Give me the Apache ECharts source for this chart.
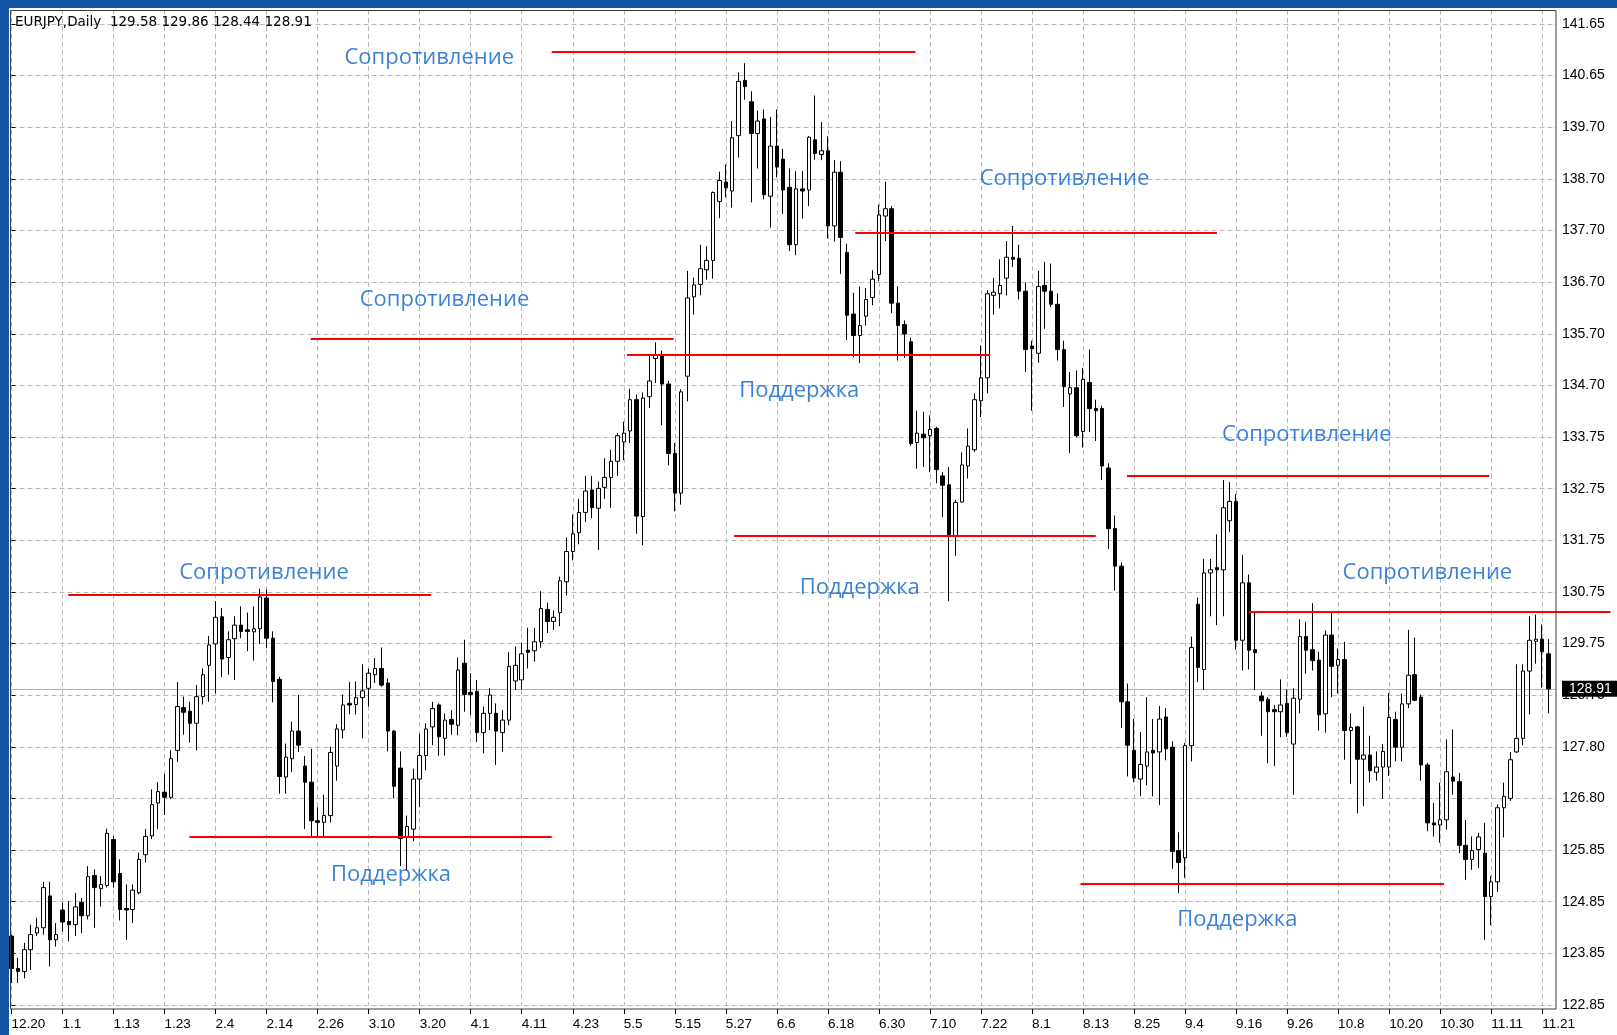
<!DOCTYPE html>
<html>
<head>
<meta charset="utf-8">
<title>EURJPY, Daily</title>
<script src="https://cdn.jsdelivr.net/npm/echarts@6/dist/echarts.min.js"></script>
<style>
  html, body { margin: 0; padding: 0; background: #fff; }
  #chart { width: 1617px; height: 1035px; }
</style>
</head>
<body>
<div id="chart"></div>
<script>
// daily bars, every weekday from 12.20 up to 11.24
const firstDay = '2002-12-20';
const barCount = 242;

const opens = [
  124.17, 123.55, 123.49, 123.91, 124.23, 124.33, 124.94, 124.10, 124.67, 124.45,
  124.39, 124.82, 124.56, 125.33, 125.08, 125.14, 126.02, 125.37, 124.70, 124.68,
  125.00, 125.73, 126.09, 126.72, 126.93, 126.83, 127.73, 128.55, 128.48, 128.25,
  128.76, 129.36, 129.77, 130.29, 129.51, 129.87, 130.13, 130.04, 130.00, 130.06,
  130.65, 129.88, 129.09, 127.22, 127.57, 128.10, 127.43, 127.12, 126.38, 126.35,
  126.48, 127.43, 128.12, 128.63, 128.61, 128.74, 128.92, 129.18, 129.30, 129.02,
  128.10, 127.39, 126.06, 126.22, 127.18, 127.63, 128.18, 128.60, 127.96, 128.32,
  128.21, 129.40, 128.84, 128.86, 128.07, 128.44, 128.44, 128.07, 128.31, 129.06,
  129.08, 129.65, 129.64, 129.81, 130.43, 130.20, 130.37, 130.96, 131.54, 131.90,
  132.29, 132.72, 132.37, 132.77, 132.96, 133.27, 133.64, 133.85, 134.45, 132.21,
  134.51, 135.24, 135.29, 134.75, 133.42, 132.66, 134.90, 136.42, 136.66, 136.94,
  137.12, 138.25, 138.62, 138.45, 139.51, 140.57, 140.16, 139.55, 139.83, 138.35,
  139.31, 139.06, 138.52, 137.42, 138.49, 138.47, 139.43, 139.15, 139.22, 137.78,
  138.81, 137.27, 136.09, 135.68, 136.05, 136.41, 136.85, 137.97, 138.11, 136.30,
  135.89, 135.56, 133.63, 133.79, 133.76, 133.90, 132.99, 132.82, 131.85, 132.49,
  133.18, 133.49, 134.43, 134.87, 136.45, 136.48, 136.78, 137.18, 137.16, 136.53,
  135.48, 135.34, 136.64, 136.53, 136.28, 135.41, 134.56, 134.68, 133.84, 134.78,
  134.28, 134.28, 133.14, 131.98, 131.26, 128.66, 127.73, 127.18, 127.43, 127.73,
  127.70, 128.37, 127.79, 125.81, 125.67, 127.82, 130.53, 129.28, 131.13, 131.23,
  131.19, 132.13, 132.50, 129.84, 130.94, 129.66, 128.77, 128.71, 128.51, 128.47,
  128.63, 127.85, 128.71, 129.91, 129.66, 129.46, 128.43, 129.94, 129.36, 129.47,
  128.11, 128.18, 127.56, 127.64, 127.31, 127.41, 127.41, 128.32, 127.79, 128.62,
  129.18, 128.75, 127.45, 126.34, 126.30, 126.40, 127.22, 127.13, 125.91, 125.64,
  125.83, 125.76, 124.93, 125.21, 126.63, 126.81, 127.70, 127.96, 129.25, 129.82,
  129.86, 129.58
];
const closes = [
  123.55, 123.49, 123.91, 124.20, 124.33, 125.10, 124.10, 124.20, 124.44, 124.39,
  124.73, 124.56, 125.31, 125.10, 125.16, 126.14, 125.21, 124.68, 124.67, 125.05,
  125.64, 126.08, 126.69, 126.94, 126.83, 127.57, 128.57, 128.46, 128.25, 128.76,
  129.18, 129.75, 130.28, 129.48, 129.85, 130.13, 130.01, 130.01, 130.06, 130.67,
  129.88, 129.05, 127.23, 127.60, 128.10, 127.83, 127.12, 126.38, 126.35, 126.48,
  127.69, 128.14, 128.60, 128.60, 128.74, 128.87, 129.21, 129.30, 128.98, 128.10,
  127.04, 126.04, 126.27, 127.18, 127.63, 128.14, 128.53, 127.99, 128.31, 128.23,
  129.27, 128.80, 128.80, 128.07, 128.44, 128.79, 128.10, 128.31, 129.34, 129.36,
  129.58, 129.61, 129.81, 130.45, 130.20, 130.28, 130.98, 131.54, 131.88, 132.29,
  132.70, 132.38, 132.75, 132.96, 133.27, 133.76, 133.81, 134.45, 132.22, 134.48,
  134.81, 135.31, 134.75, 133.42, 132.66, 134.60, 136.40, 136.65, 136.96, 137.12,
  138.42, 138.65, 138.51, 139.47, 140.55, 140.45, 139.55, 139.79, 138.38, 139.31,
  138.91, 138.47, 137.42, 138.49, 138.45, 139.48, 139.17, 139.22, 137.78, 138.81,
  137.56, 136.07, 135.68, 135.87, 136.37, 136.76, 137.99, 138.11, 136.30, 135.87,
  135.71, 133.61, 133.81, 133.72, 133.88, 133.11, 132.81, 131.83, 132.48, 133.20,
  133.56, 134.45, 134.87, 136.48, 136.51, 136.64, 137.18, 137.14, 136.53, 135.41,
  135.43, 136.62, 136.53, 136.28, 135.41, 134.70, 134.68, 133.76, 134.84, 134.28,
  134.24, 133.18, 131.98, 131.26, 128.66, 127.83, 127.20, 127.46, 127.70, 127.68,
  128.33, 127.76, 125.79, 125.58, 127.82, 129.70, 129.32, 131.13, 131.19, 131.19,
  132.38, 132.50, 129.84, 130.94, 129.65, 129.60, 128.68, 128.47, 128.47, 128.60,
  128.07, 128.73, 129.91, 129.65, 129.45, 128.41, 129.94, 129.34, 129.47, 128.11,
  128.17, 127.56, 127.64, 127.34, 127.41, 127.71, 128.36, 127.79, 128.62, 129.17,
  128.69, 127.45, 126.34, 126.30, 126.40, 127.32, 127.14, 125.91, 125.64, 125.81,
  126.07, 124.93, 125.21, 126.63, 126.85, 127.55, 127.96, 129.25, 129.84, 129.86,
  129.62, 128.91
];
const lows = [
  123.27, 123.27, 123.36, 123.52, 124.17, 124.20, 123.59, 123.97, 124.26, 124.07,
  124.17, 124.23, 124.49, 124.33, 124.74, 125.10, 125.10, 124.47, 124.10, 124.42,
  124.97, 125.58, 126.03, 126.22, 126.49, 126.80, 127.51, 128.03, 127.88, 127.73,
  128.61, 128.66, 128.82, 129.14, 129.18, 129.08, 129.88, 129.63, 129.45, 129.77,
  129.69, 128.65, 126.90, 126.90, 127.31, 127.70, 126.22, 126.06, 126.06, 126.09,
  126.35, 127.15, 127.96, 128.42, 128.42, 127.96, 128.57, 129.02, 128.95, 127.71,
  126.81, 125.51, 125.42, 125.99, 126.64, 127.35, 127.83, 127.63, 127.63, 128.03,
  128.02, 128.47, 128.41, 127.89, 127.67, 128.12, 127.45, 127.70, 128.21, 128.89,
  128.90, 129.30, 129.43, 129.70, 129.98, 130.04, 130.11, 130.70, 131.37, 131.68,
  132.11, 132.18, 131.57, 132.55, 132.38, 132.99, 133.29, 133.62, 131.88, 131.66,
  134.29, 134.77, 133.96, 133.19, 132.31, 132.44, 134.42, 136.08, 136.45, 136.75,
  136.77, 137.93, 138.33, 138.13, 139.09, 140.20, 138.23, 138.88, 138.29, 137.75,
  138.71, 138.01, 137.30, 137.22, 137.92, 138.16, 139.05, 139.04, 137.54, 137.48,
  136.86, 135.59, 135.27, 135.15, 135.87, 136.26, 136.72, 137.49, 136.11, 135.20,
  135.25, 133.57, 133.13, 133.16, 133.06, 132.85, 132.20, 130.59, 131.46, 132.48,
  132.94, 133.45, 134.12, 134.57, 136.08, 136.20, 136.45, 136.99, 136.37, 134.98,
  134.24, 135.16, 135.81, 136.23, 135.20, 134.31, 133.43, 133.73, 133.53, 133.83,
  133.66, 132.91, 131.59, 130.79, 128.16, 127.23, 127.12, 126.85, 127.06, 126.85,
  126.68, 127.54, 125.46, 125.00, 125.29, 127.52, 129.04, 128.89, 130.30, 130.13,
  130.30, 131.91, 129.66, 129.26, 129.28, 128.89, 128.01, 127.48, 127.43, 127.98,
  127.99, 126.88, 128.44, 129.20, 129.26, 128.11, 128.07, 128.75, 128.82, 127.55,
  127.09, 126.52, 126.66, 127.11, 127.15, 126.80, 127.24, 127.52, 127.52, 128.54,
  128.67, 127.15, 126.18, 126.08, 125.96, 126.21, 126.88, 125.76, 125.25, 125.44,
  125.47, 124.10, 124.38, 125.02, 126.06, 126.76, 127.68, 127.83, 128.42, 129.39,
  128.93, 128.44
];
const highs = [
  124.20, 123.75, 124.04, 124.39, 124.52, 125.21, 125.21, 124.42, 124.81, 124.84,
  125.00, 124.90, 125.51, 125.45, 125.32, 126.23, 126.09, 125.64, 125.16, 125.16,
  125.77, 126.22, 126.98, 127.12, 127.28, 127.73, 129.04, 128.76, 128.66, 128.98,
  129.30, 129.92, 130.59, 130.46, 130.01, 130.30, 130.49, 130.37, 130.49, 130.83,
  130.81, 130.01, 129.14, 127.86, 128.28, 128.79, 127.62, 127.76, 126.64, 126.88,
  127.80, 128.23, 128.80, 129.04, 129.05, 129.38, 129.30, 129.50, 129.70, 129.11,
  128.12, 127.71, 126.48, 127.38, 128.05, 128.25, 128.66, 128.63, 128.44, 128.50,
  129.51, 129.85, 129.21, 129.08, 128.57, 128.92, 128.63, 128.50, 129.61, 129.72,
  129.79, 130.08, 130.08, 130.78, 130.56, 130.41, 131.06, 131.81, 132.25, 132.55,
  132.99, 132.99, 132.88, 133.33, 133.49, 133.81, 134.03, 134.66, 134.55, 134.59,
  135.33, 135.55, 135.39, 134.81, 133.62, 134.65, 136.92, 136.79, 137.42, 137.39,
  138.44, 138.82, 138.96, 139.79, 140.72, 140.90, 140.36, 139.99, 140.01, 139.87,
  140.01, 139.26, 138.88, 138.83, 138.83, 139.50, 140.28, 139.77, 139.50, 139.04,
  139.02, 137.44, 136.50, 136.62, 136.59, 136.93, 138.19, 138.63, 138.16, 136.62,
  135.97, 135.64, 134.24, 134.22, 134.15, 133.93, 133.06, 133.16, 132.53, 133.44,
  133.90, 134.57, 135.49, 136.55, 136.78, 137.14, 137.49, 137.78, 137.42, 136.70,
  135.58, 136.92, 137.09, 137.06, 136.49, 135.58, 134.98, 135.01, 135.06, 135.41,
  134.45, 134.33, 133.23, 132.23, 131.33, 129.01, 128.33, 128.08, 128.75, 128.33,
  128.58, 128.54, 127.90, 126.16, 127.87, 129.91, 130.66, 131.40, 131.40, 131.87,
  132.91, 132.87, 132.64, 131.47, 131.10, 130.36, 128.85, 128.75, 128.60, 129.09,
  128.90, 128.92, 130.24, 130.19, 130.55, 129.62, 130.03, 130.40, 129.68, 129.81,
  128.44, 128.20, 128.57, 128.01, 127.71, 127.85, 128.83, 128.47, 128.82, 130.04,
  129.89, 128.80, 127.49, 126.72, 127.11, 127.94, 128.13, 127.30, 126.40, 126.08,
  126.15, 126.34, 125.32, 126.69, 127.11, 127.70, 129.38, 129.38, 130.30, 130.33,
  130.14, 129.86
];

// price scale labels as printed on the right
const yTickLabels = ['122.85', '123.85', '124.85', '125.85', '126.80', '127.80', '128.75',
  '129.75', '130.75', '131.75', '132.75', '133.75', '134.70', '135.70', '136.70',
  '137.70', '138.70', '139.70', '140.65', '141.65'];

// support / resistance: [from bar, to bar, price]
const levelLines = [
  [84.7, 141.7, 141.12],
  [46.9, 103.8, 135.61],
  [96.5, 153.4, 135.32],
  [132.3, 189.0, 137.64],
  [113.3, 170.0, 131.85],
  [174.9, 231.7, 133.00],
  [194.0, 250.7, 130.39],
  [167.6, 224.6, 125.17],
  [8.9, 65.8, 130.72],
  [27.9, 84.7, 126.07]
];
// captions: [text, bar, price]
const levelTexts = [
  ['Сопротивление', 65.5, 141.00],
  ['Сопротивление', 67.9, 136.36],
  ['Сопротивление', 39.6, 131.14],
  ['Поддержка', 59.5, 125.35],
  ['Поддержка', 123.5, 134.62],
  ['Поддержка', 133.0, 130.85],
  ['Сопротивление', 165.1, 138.69],
  ['Сопротивление', 203.1, 133.77],
  ['Сопротивление', 222.0, 131.14],
  ['Поддержка', 192.2, 124.48]
];

function tradingDays(start, n) {
  const out = [];
  const d = new Date(start + 'T00:00:00Z');
  while (out.length < n) {
    const wd = d.getUTCDay();
    if (wd !== 0 && wd !== 6) out.push((d.getUTCMonth() + 1) + '.' + d.getUTCDate());
    d.setUTCDate(d.getUTCDate() + 1);
  }
  return out;
}
const days = tradingDays(firstDay, barCount);

// layout
const W = 1617, H = 1035;
const firstBarX = 11.5, barStep = 6.378;
const plotRight = 1556;
const gridTop = 10, gridBottom = 30;
const yMin = 122.85, yStep = 0.98947;
const pxPerUnit = 981 / (19 * yStep);
const yMax = yMin + (H - gridBottom - gridTop) / pxPerUnit;
const xMax = (plotRight - firstBarX) / barStep;

const last = barCount - 1;
const header = 'EURJPY,Daily  ' + [opens[last], highs[last], lows[last], closes[last]]
  .map(v => v.toFixed(2)).join(' ');

const font = 'Liberation Sans';
const gridLine = { show: true, lineStyle: { color: '#b9b9b9', width: 1, type: [5, 3] } };

const chart = echarts.init(document.getElementById('chart'));
chart.setOption({
  animation: false,
  backgroundColor: '#fff',
  title: {
    text: header, left: 15, top: 15, padding: 0,
    textStyle: { fontSize: 13.5, fontWeight: 'normal', fontFamily: 'DejaVu Sans', color: '#000' }
  },
  grid: [
    { left: firstBarX - barStep / 2, right: W - (firstBarX + (barCount - 0.5) * barStep), top: gridTop, bottom: gridBottom },
    { left: firstBarX, right: W - plotRight, top: gridTop, bottom: gridBottom }
  ],
  xAxis: [
    { type: 'category', gridIndex: 0, data: days, show: false },
    {
      type: 'value', gridIndex: 1, min: 0, max: xMax, interval: 8, offset: 4,
      axisLine: { show: false },
      axisTick: { show: true, length: 5, lineStyle: { color: '#000' } },
      axisLabel: {
        show: true, align: 'left', margin: 8, showMaxLabel: false,
        fontSize: 13.5, fontFamily: font, color: '#000',
        formatter: v => days[Math.round(v)] || ''
      },
      splitLine: Object.assign({ showMaxLine: false }, gridLine)
    }
  ],
  yAxis: [
    { type: 'value', gridIndex: 0, min: yMin, max: yMax, show: false },
    {
      type: 'value', gridIndex: 1, position: 'right', min: yMin, max: yMax, interval: yStep,
      axisLine: { show: false },
      axisTick: { show: true, length: 4, lineStyle: { color: '#000' } },
      axisLabel: {
        show: true, margin: 6, showMaxLabel: false,
        fontSize: 14, fontFamily: font, color: '#000',
        formatter: v => yTickLabels[Math.round((v - yMin) / yStep)] || ''
      },
      splitLine: Object.assign({ showMaxLine: false }, gridLine)
    }
  ],
  series: [
    {
      type: 'candlestick', xAxisIndex: 0, yAxisIndex: 0, z: 2,
      barWidth: 4,
      itemStyle: {
        color: '#fff', color0: '#000',
        borderColor: '#000', borderColor0: '#000', borderColorDoji: '#000',
        borderWidth: 1
      },
      data: opens.map((o, i) => [o, closes[i], lows[i], highs[i]])
    },
    {
      type: 'lines', coordinateSystem: 'cartesian2d', xAxisIndex: 1, yAxisIndex: 1,
      clip: false, silent: true, z: 4,
      lineStyle: { color: '#ff0000', width: 2, opacity: 1, curveness: 0 },
      data: levelLines.map(([a, b, p]) => ({ coords: [[a, p], [b, p]] }))
    },
    {
      type: 'scatter', xAxisIndex: 1, yAxisIndex: 1, silent: true, z: 5,
      symbolSize: 1, itemStyle: { color: 'rgba(0,0,0,0)' },
      label: {
        show: true, position: 'inside', formatter: '{b}',
        color: '#0a62cc', fontSize: 22, fontFamily: 'Open Sans'
      },
      data: levelTexts.map(([t, b, p]) => ({ name: t, value: [b, p] })),
      markLine: {
        silent: true, symbol: 'none', z: 1, animation: false,
        lineStyle: { color: '#b0b0b0', width: 1, type: 'solid' },
        label: {
          position: 'end', distance: 6, formatter: closes[last].toFixed(2),
          color: '#fff', backgroundColor: '#000', padding: [1, 7],
          fontSize: 14, fontFamily: font
        },
        data: [{ yAxis: closes[last] }]
      }
    }
  ],
  graphic: [
    { type: 'rect', silent: true, shape: { x: 0, y: 0, width: W, height: 8 }, style: { fill: '#1456a6' } },
    { type: 'rect', silent: true, shape: { x: 0, y: 0, width: 9, height: H }, style: { fill: '#1456a6' } },
    {
      type: 'rect', silent: true, z: 10,
      shape: { x: 10.5, y: 10.5, width: plotRight - 10.5, height: 998.5 },
      style: { fill: 'none', stroke: '#3a3a3a', lineWidth: 1 }
    }
  ]
});
</script>
</body>
</html>
